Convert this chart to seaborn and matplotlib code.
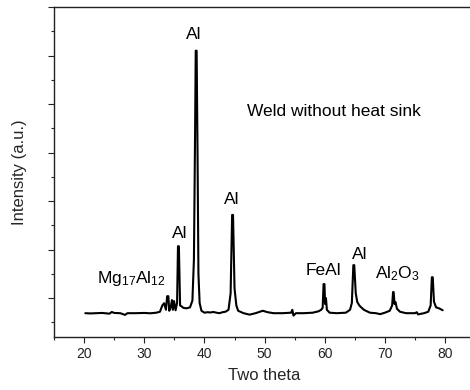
import numpy as np
import pandas as pd
import matplotlib
matplotlib.use("Agg")
import matplotlib.pyplot as plt
import seaborn as sns
from matplotlib.ticker import MultipleLocator, NullFormatter

two_theta = [20.2, 21.0, 22.0, 23.0, 24.2, 24.6, 25.0, 26.0, 26.8, 27.2, 28.5, 30.0, 31.0, 32.0,
             32.6, 33.0, 33.3, 33.6, 33.8, 34.0, 34.15, 34.4, 34.6, 34.75, 34.95, 35.2, 35.45,
             35.6, 35.75, 35.95, 36.2, 36.5, 37.0, 37.6, 38.0, 38.25, 38.45, 38.55, 38.7, 38.85,
             39.0, 39.2, 39.5, 40.0, 40.5, 41.0, 41.5, 42.0, 42.5, 43.0, 43.5, 44.0, 44.35, 44.6,
             44.75, 45.0, 45.3, 45.6, 46.5, 47.5, 48.5, 49.7, 50.5, 51.5, 53.0, 54.4, 54.6, 54.8,
             55.2, 56.5, 58.0, 59.0, 59.4, 59.65, 59.8, 59.95, 60.05, 60.2, 60.35, 60.8, 62.0,
             63.5, 64.2, 64.5, 64.75, 64.9, 65.15, 65.4, 65.8, 66.5, 67.5, 68.5, 69.2, 70.0, 70.8,
             71.2, 71.35, 71.45, 71.6, 71.75, 72.0, 72.5, 73.5, 75.0, 75.3, 75.5, 76.5, 77.2,
             77.6, 77.8, 77.95, 78.15, 78.5, 79.0, 79.6]
intensity = [690, 685, 690, 695, 680, 715, 695, 690, 655, 690, 690, 695, 688, 700,
             720, 850, 895, 760, 1040, 1040, 740, 820, 960, 760, 940, 750, 900,
             2070, 2070, 850, 830, 800, 790, 810, 950, 1800, 4500, 6100, 6100, 4000,
             1500, 900, 740, 700, 710, 705, 715, 700, 690, 710, 720, 760, 1100, 2715,
             2715, 1200, 850, 740, 690, 660, 690, 740, 710, 690, 690, 700, 760, 640,
             690, 690, 700, 730, 760, 800, 1290, 1290, 880, 1000, 760, 700, 690,
             700, 760, 900, 1680, 1680, 1100, 920, 840, 760, 700, 690, 670, 700, 740,
             850, 1125, 1125, 880, 920, 780, 720, 690, 690, 710, 665, 690, 720,
             850, 1430, 1430, 930, 810, 790, 750]

labels = ["Al", "Weld without heat sink", "Al", "Al", r"Mg$_{17}$Al$_{12}$", "FeAl", "Al", r"Al$_{2}$O$_{3}$"]
label_x = [38.2, 61.6, 44.6, 35.9, 27.9, 59.8, 65.8, 72.1]
label_y = [6430, 4840, 3040, 2340, 1410, 1560, 1890, 1500]

sns.set_style("ticks")
plt.rcParams['font.family'] = ['Liberation Sans', 'DejaVu Sans']
plt.rcParams['mathtext.fontset'] = 'custom'
plt.rcParams['mathtext.rm'] = 'Liberation Sans'
plt.rcParams['mathtext.it'] = 'Liberation Sans:italic'
plt.rcParams['mathtext.bf'] = 'Liberation Sans:bold'

fig = plt.figure(figsize=(4.7, 3.9), dpi=100)
ax = fig.add_axes([0.115, 0.136, 0.896, 0.846])

df = pd.DataFrame({"x": two_theta, "y": intensity})
sns.lineplot(data=df, x="x", y="y", ax=ax, color="black", linewidth=1.5, sort=False)

ax.set_xlim(15, 85)
ax.set_ylim(200, 7000)
ax.xaxis.set_major_locator(MultipleLocator(10))
ax.xaxis.set_minor_locator(MultipleLocator(5))
ax.yaxis.set_major_locator(MultipleLocator(1000))
ax.yaxis.set_minor_locator(MultipleLocator(500))
ax.yaxis.set_major_formatter(NullFormatter())
ax.tick_params(axis='both', which='major', length=4, width=0.8, direction='out', labelsize=10, colors='#222222')
ax.tick_params(axis='both', which='minor', length=2, width=0.8, direction='out')
ax.spines['right'].set_visible(False)
for s in ['top', 'left', 'bottom']:
    ax.spines[s].set_linewidth(1.0)
    ax.spines[s].set_color('#222222')

ax.set_xlabel("Two theta", fontsize=12, labelpad=5)
ax.set_ylabel("Intensity (a.u.)", fontsize=12, labelpad=12)

for t, x, y in zip(labels, label_x, label_y):
    ax.text(x, y, t, fontsize=12.5, ha='center', va='center', color='black')

fig.savefig("out.png", dpi=100)
